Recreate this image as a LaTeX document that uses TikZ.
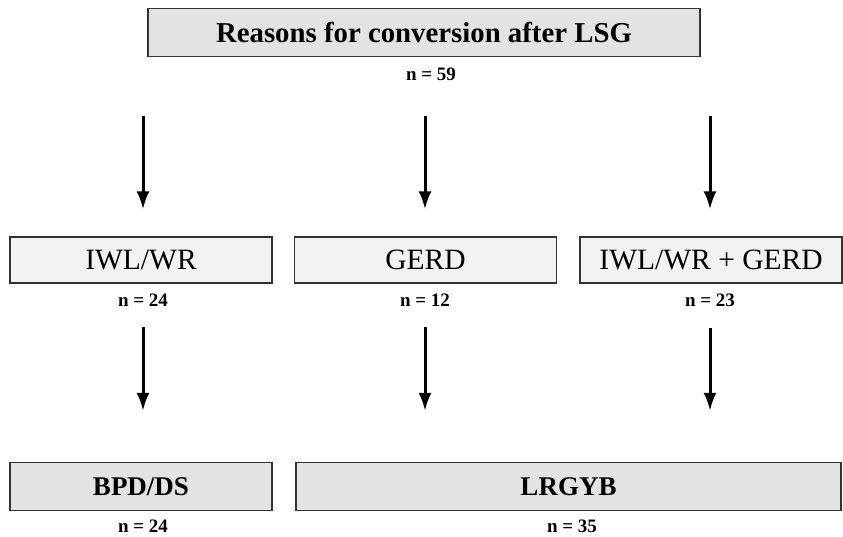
\documentclass[tikz,border=0pt]{standalone}
\usepackage{fontspec}
\setmainfont{Liberation Serif}
\usetikzlibrary{arrows.meta}
\tikzset{
  darkbox/.style={draw=black!80, line width=1.2pt, fill=black!11, minimum height=48pt, inner sep=0pt, font=\fontsize{27}{30}\selectfont\bfseries},
  lightbox/.style={draw=black!80, line width=1.2pt, fill=black!5, minimum height=46pt, minimum width=262pt, inner sep=0pt, font=\fontsize{29.5}{32}\selectfont},
  count/.style={font=\fontsize{19}{22}\selectfont\bfseries, inner sep=0pt},
  down/.style={-{Latex[length=18pt,width=13pt]}, line width=3pt}
}
\begin{document}
\begin{tikzpicture}[x=1pt,y=-1pt]
\useasboundingbox (0,0) rectangle (843,537);
% top
\node[darkbox, minimum width=552pt, font=\fontsize{28.8}{32}\selectfont\bfseries] (reasons) at (424,32.5) {Reasons for conversion after LSG};
\node[count] (n59) at (431,74) {n = 59};
% reasons
\node[lightbox] (iwl) at (141,260) {IWL/WR};
\node[lightbox] (gerd) at (425.5,260) {GERD};
\node[lightbox] (both) at (711,260) {IWL/WR + GERD};
\node[count] (niwl) at (143,300) {n = 24};
\node[count] (ngerd) at (425,300) {n = 12};
\node[count] (nboth) at (710,300) {n = 23};
% procedures
\node[darkbox, minimum width=262pt] (bpd) at (141,486.5) {BPD/DS};
\node[darkbox, minimum width=545pt] (lrgyb) at (568.5,486.5) {LRGYB};
\node[count] (nbpd) at (143,526) {n = 24};
\node[count] (nlrgyb) at (572,526) {n = 35};
% arrows
\foreach \b in {iwl,gerd,both}
  \draw[down, shorten <=35pt, shorten >=27pt] (n59.south -| n\b.south) -- (n\b.south |- \b.north);
\foreach \b/\e in {iwl/bpd, gerd/lrgyb, both/lrgyb}
  \draw[down, shorten <=21pt, shorten >=51pt] (n\b.south) -- (n\b.south |- \e.north);
\end{tikzpicture}
\end{document}
